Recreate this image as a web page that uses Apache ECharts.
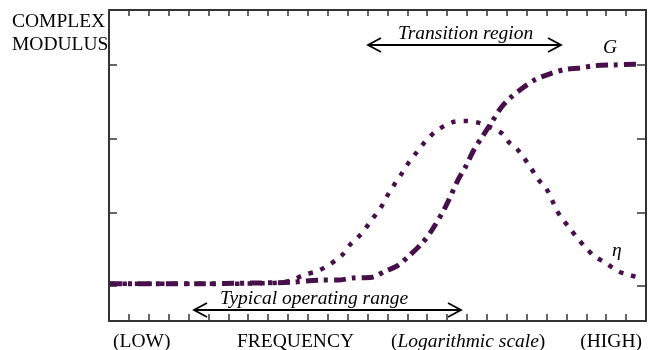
<!DOCTYPE html>
<html>
<head>
<meta charset="utf-8">
<script src="https://cdn.jsdelivr.net/npm/echarts@6/dist/echarts.min.js"></script>
<style>
  html, body { margin: 0; padding: 0; background: #fff; }
  #main { width: 655px; height: 350px; }
</style>
</head>
<body>
<div id="main"></div>
<script>
// frequency axis: 27 tick steps, log scale shown as arbitrary units
var xMin = 0, xMax = 27;
// modulus axis, ticks at 1..4
var yMin = 0.525, yMax = 4.746;
var yTicks = [1, 2, 3, 4];

// G (storage / complex modulus) curve
var gX = [0.05, 2.06, 4.58, 7.09, 9.10, 10.61, 11.51, 12.27, 13.22, 13.88, 14.53, 15.13, 15.74, 16.24,
          16.89, 17.55, 17.95, 18.35, 18.80, 19.26, 19.71, 20.16, 20.81, 21.42, 22.17, 22.93, 23.68,
          24.43, 25.34, 26.55];
var gY = [1.03, 1.03, 1.03, 1.04, 1.05, 1.08, 1.08, 1.11, 1.12, 1.20, 1.28, 1.42, 1.58, 1.76,
          2.06, 2.44, 2.63, 2.85, 3.04, 3.23, 3.42, 3.55, 3.69, 3.80, 3.88, 3.94, 3.96,
          3.99, 4.00, 4.01];

// eta (loss) curve
var etaX = [0.05, 4.58, 8.09, 9.10, 9.80, 10.46, 10.96, 11.41, 11.76, 12.12, 12.52, 12.92, 13.27, 13.68,
            13.98, 14.33, 14.73, 15.08, 15.49, 15.84, 16.34, 16.84, 17.35, 17.95, 18.65, 19.71, 20.11,
            20.51, 20.86, 21.22, 21.57, 21.97, 22.27, 22.52, 22.83, 23.23, 23.58, 23.98, 24.38, 24.99,
            25.59, 26.14, 26.75];
var etaY = [1.03, 1.03, 1.04, 1.07, 1.15, 1.20, 1.27, 1.35, 1.43, 1.56, 1.66, 1.79, 1.92, 2.07,
            2.22, 2.37, 2.53, 2.68, 2.82, 2.94, 3.08, 3.17, 3.23, 3.24, 3.21, 3.08, 2.95,
            2.86, 2.74, 2.60, 2.45, 2.33, 2.17, 2.02, 1.90, 1.76, 1.64, 1.52, 1.41, 1.31,
            1.20, 1.15, 1.11];

var bottomLabels = ['(LOW)', 'FREQUENCY', '(Logarithmic scale)', '(HIGH)'];

function pairs(xs, ys) {
  var out = [];
  for (var i = 0; i < xs.length; i++) out.push([xs[i], ys[i]]);
  return out;
}

var curveColor = '#48104a';
var axisColor = '#333';
var serif = 'Liberation Serif';
var fsize = '19.5px';

// double-headed open arrow
function arrow(x1, x2, y) {
  var st = { stroke: '#000', lineWidth: 1.8, fill: null };
  return [
    { type: 'line', shape: { x1: x1, y1: y, x2: x2, y2: y }, style: st },
    { type: 'polyline', shape: { points: [[x1 + 13, y - 7], [x1, y], [x1 + 13, y + 7]] }, style: st },
    { type: 'polyline', shape: { points: [[x2 - 13, y - 7], [x2, y], [x2 - 13, y + 7]] }, style: st }
  ];
}

function label(txt, x, y, italic, align) {
  return {
    type: 'text',
    style: {
      text: txt, x: x, y: y,
      font: (italic ? 'italic ' : '') + fsize + ' "' + serif + '"',
      fill: '#000',
      textAlign: align || 'left',
      textVerticalAlign: 'middle'
    }
  };
}

// frame axis, no labels, ticks pointing inward
function frameAxis(type, pos, len) {
  var ax = {
    type: 'value', position: pos,
    axisLine: { show: true, onZero: false, lineStyle: { color: axisColor, width: 2 } },
    axisTick: { show: true, inside: true, length: len, lineStyle: { color: axisColor, width: 1.5 } },
    axisLabel: { show: false },
    splitLine: { show: false }
  };
  if (type == 'x') {
    ax.min = xMin; ax.max = xMax; ax.interval = 1;
  } else {
    ax.min = yMin; ax.max = yMax;
    ax.axisTick.customValues = yTicks;
  }
  return ax;
}

var myChart = echarts.init(document.getElementById('main'));

var option = {
  animation: false,
  backgroundColor: '#fff',
  grid: { left: 109, right: 9, top: 10, bottom: 29 },
  xAxis: [frameAxis('x', 'bottom', 7), frameAxis('x', 'top', 6)],
  yAxis: [frameAxis('y', 'left', 8), frameAxis('y', 'right', 9)],
  series: [
    {
      name: 'G', type: 'line', smooth: 0.3, symbol: 'none',
      data: pairs(gX, gY),
      lineStyle: { color: curveColor, width: 5, type: [12, 6, 4, 6], cap: 'butt' }
    },
    {
      name: 'η', type: 'line', smooth: 0.3, symbol: 'none',
      data: pairs(etaX, etaY),
      lineStyle: { color: curveColor, width: 4.5, type: [4.5, 8], cap: 'butt' }
    }
  ],
  graphic: [
    label('COMPLEX', 12, 22, false),
    label('MODULUS', 12, 45, false),
    label(bottomLabels[0], 113, 342, false),
    label(bottomLabels[1], 237, 342, false),
    {
      type: 'text',
      style: {
        rich: {
          n: { font: fsize + ' "' + serif + '"', fill: '#000' },
          i: { font: 'italic ' + fsize + ' "' + serif + '"', fill: '#000' }
        },
        text: '{n|(}{i|Logarithmic scale}{n|)}',
        x: 391, y: 342, textVerticalAlign: 'middle'
      }
    },
    label(bottomLabels[3], 642, 342, false, 'right'),
    label('Transition region', 398, 34, true),
    label('G', 603, 48, true),
    label('η', 612, 251, true),
    label('Typical operating range', 220, 299, true)
  ].concat(arrow(368, 561, 45)).concat(arrow(194, 461, 310))
};

myChart.setOption(option);
</script>
</body>
</html>
